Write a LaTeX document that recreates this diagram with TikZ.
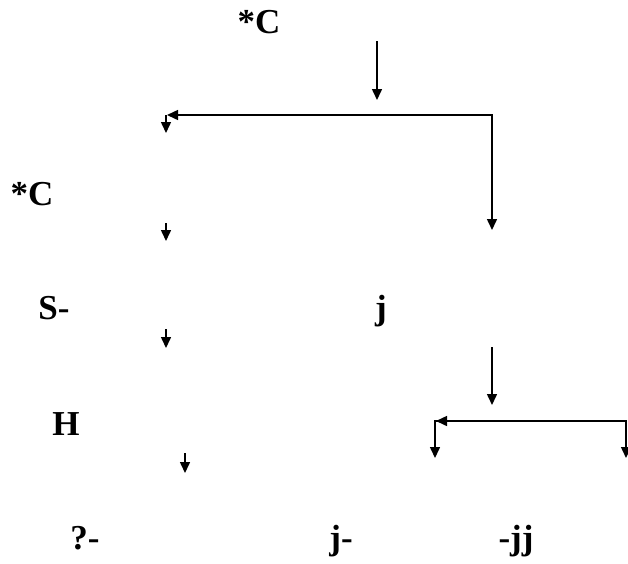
\documentclass[tikz,border=0pt]{standalone}
\usepackage{fontspec}
\setmainfont{Liberation Serif}
\usetikzlibrary{arrows.meta}
\begin{document}
\begin{tikzpicture}[x=1pt,y=-1pt,
  lbl/.style={font=\fontsize{35}{40}\selectfont\bfseries, inner sep=0pt, anchor=base},
  tip/.tip={Triangle[length=11pt,width=10pt]},
  arr/.style={line width=1.5pt, -tip},
  barr/.style={line width=1.5pt, tip-tip}]
\useasboundingbox (0,0) rectangle (628,563);
% labels
\node[lbl] (c1) at (259,33) {*C};
\node[lbl] (c2) at (32,205) {*C};
\node[lbl] (s) at (54,319) {S-};
\node[lbl] (j) at (381,319) {j};
\node[lbl] (h) at (66,435) {H};
\node[lbl] (q) at (85,549) {?-};
\node[lbl] (jm) at (341,549) {j-};
\node[lbl] (mjj) at (516,549) {-jj};
% coordinates
\coordinate (a1s) at (377,41);
\coordinate (a1e) at (377,100);
\coordinate (fl) at (167,115);
\coordinate (fr) at (492,115);
\coordinate (fd) at (492,230);
\coordinate (s1s) at (166,115);
\coordinate (s1e) at (166,133);
\coordinate (s2s) at (166,223);
\coordinate (s2e) at (166,241);
\coordinate (s3s) at (166,329);
\coordinate (s3e) at (166,348);
\coordinate (s4s) at (185,453);
\coordinate (s4e) at (185,473);
\coordinate (a2s) at (492,347);
\coordinate (a2e) at (492,405);
\coordinate (gc) at (435,421);
\coordinate (gl) at (436,421);
\coordinate (gr) at (626,421);
\coordinate (gld) at (435,458);
\coordinate (grd) at (626,458);
% connectors
\draw[arr] (a1s) -- (a1e);
\draw[barr] (fl) -- (fr) -- (fd);
\draw[arr] (s1s) -- (s1e);
\draw[arr] (s2s) -- (s2e);
\draw[arr] (s3s) -- (s3e);
\draw[arr] (s4s) -- (s4e);
\draw[arr] (a2s) -- (a2e);
\draw[barr] (gld) -- (gc) -- (gr) -- (grd);
\draw[arr] (gr) -- (gl);
\end{tikzpicture}
\end{document}
